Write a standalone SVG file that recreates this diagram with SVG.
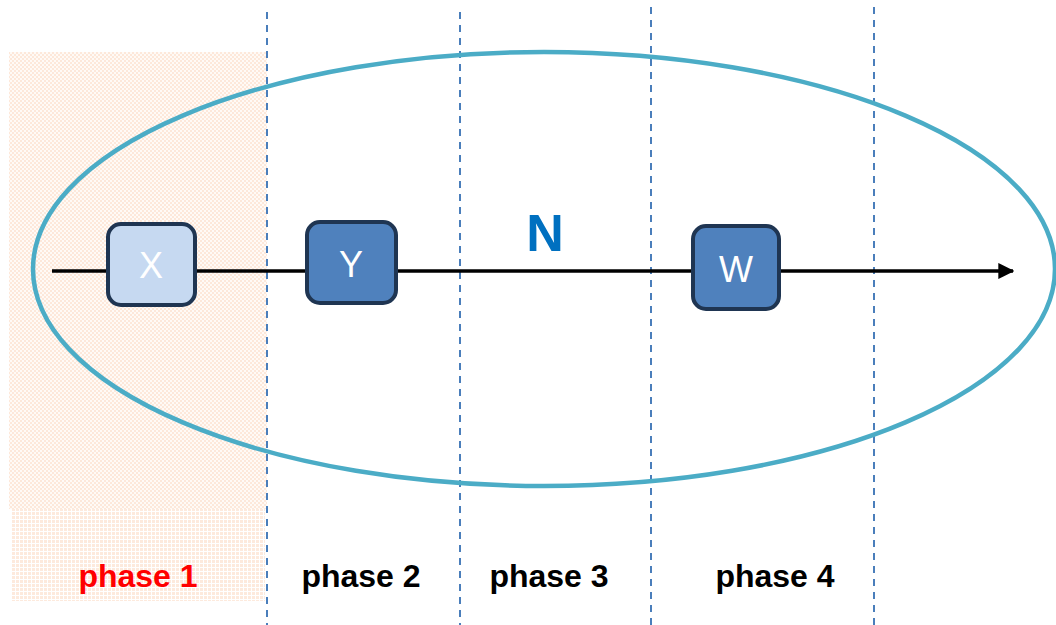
<svg xmlns="http://www.w3.org/2000/svg" width="1056" height="625" viewBox="0 0 1056 625">
  <defs>
    <style>
      .node rect { stroke: #1f3552; stroke-width: 4; }
      .node text { font-family: "Liberation Sans", Arial, sans-serif; font-size: 36px; fill: #ffffff; text-anchor: middle; }
      .phase { font-family: "Liberation Sans", Arial, sans-serif; font-weight: bold; font-size: 32px; text-anchor: middle; fill: #000000; }
      .divider { stroke: #4a7ebb; stroke-width: 2; stroke-dasharray: 7 6; fill: none; }
    </style>
    <pattern id="checker" width="4" height="4" patternUnits="userSpaceOnUse">
      <rect width="4" height="4" fill="#fffaf6"/>
      <rect width="2" height="2" fill="#fde8da"/>
      <rect x="2" y="2" width="2" height="2" fill="#fde8da"/>
    </pattern>
    <pattern id="dots" width="4" height="4" patternUnits="userSpaceOnUse">
      <rect width="4" height="4" fill="#ffffff"/>
      <rect width="3" height="3" fill="#fdeadd"/>
    </pattern>
    <marker id="arrow" markerWidth="4.6" markerHeight="4.6" refX="4.2" refY="2.3" orient="auto" markerUnits="strokeWidth">
      <path d="M0,0 L4.6,2.3 L0,4.6 z" fill="#000000"/>
    </marker>
  </defs>

  <g id="phase1-shade">
    <rect x="9" y="52" width="258" height="457" fill="url(#checker)"/>
    <rect x="11" y="509" width="254" height="92" fill="url(#dots)"/>
  </g>

  <g id="dividers">
    <line class="divider" x1="267" y1="12" x2="267" y2="625"/>
    <line class="divider" x1="460" y1="12" x2="460" y2="625"/>
    <line class="divider" x1="651" y1="7" x2="651" y2="625"/>
    <line class="divider" x1="874" y1="7" x2="874" y2="625"/>
  </g>

  <g id="N-ellipse">
    <ellipse cx="544" cy="269" rx="511" ry="217" fill="none" stroke="#4bacc6" stroke-width="4.5"/>
    <text x="545" y="251" font-family="Liberation Sans, Arial, sans-serif" font-weight="bold" font-size="52" fill="#0070c0" text-anchor="middle">N</text>
  </g>

  <g id="connectors">
    <line x1="52" y1="271" x2="1013" y2="271" stroke="#000000" stroke-width="3.5" marker-end="url(#arrow)"/>
  </g>

  <g id="node-X" class="node">
    <rect x="108" y="224" width="87" height="81" rx="13" fill="#c6d9f1"/>
    <text x="151" y="278">X</text>
  </g>
  <g id="node-Y" class="node">
    <rect x="307" y="222" width="89" height="81" rx="13" fill="#4f81bd"/>
    <text x="351" y="277">Y</text>
  </g>
  <g id="node-W" class="node">
    <rect x="693" y="226" width="86" height="83" rx="13" fill="#4f81bd"/>
    <text x="736" y="282">W</text>
  </g>

  <g id="phase-labels">
    <text class="phase" x="138" y="587" style="fill:#ff0000">phase 1</text>
    <text class="phase" x="361" y="587">phase 2</text>
    <text class="phase" x="549" y="587">phase 3</text>
    <text class="phase" x="775" y="587">phase 4</text>
  </g>
</svg>
